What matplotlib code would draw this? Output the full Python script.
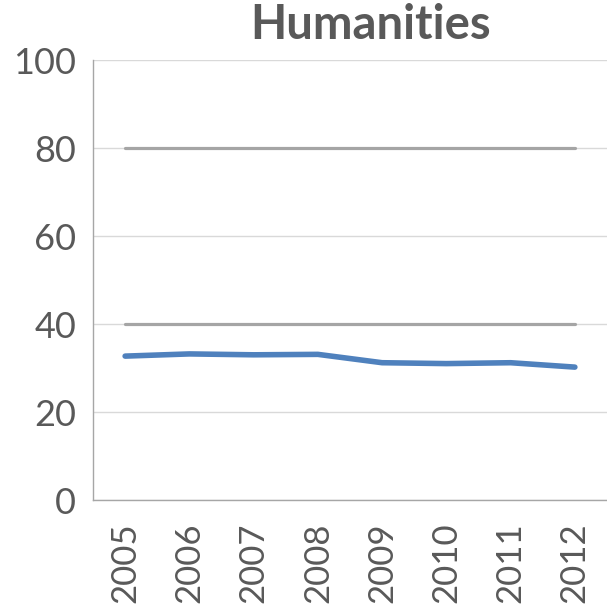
import numpy as np
from matplotlib import pyplot as plt

years = ['2005', '2006', '2007', '2008', '2009', '2010', '2011', '2012']
humanities = [32.7, 33.2, 33.0, 33.1, 31.2, 31.0, 31.2, 30.2]
upper_ref = [80, 80, 80, 80, 80, 80, 80, 80]
lower_ref = [40, 40, 40, 40, 40, 40, 40, 40]

text_col = '#595959'
plt.rcParams['font.family'] = ['Lato', 'DejaVu Sans']

fig = plt.figure(figsize=(6.07, 6.05), dpi=100)
ax = fig.add_axes([93/607, 1-500/605, 1-93/607, 440/605])

x = np.arange(len(years))
ax.plot(x, upper_ref, color='#a5a5a5', lw=2.3, solid_capstyle='round', zorder=3)
ax.plot(x, lower_ref, color='#a5a5a5', lw=2.3, solid_capstyle='round', zorder=3)
ax.plot(x, humanities, color='#4f81bd', lw=4, solid_capstyle='round', zorder=4)

ax.set_xlim(-0.5, len(years) - 0.5)
ax.set_ylim(0, 100)
ax.set_yticks([0, 20, 40, 60, 80, 100])
ax.set_xticks(x)
ax.set_xticklabels(years, rotation=90)
ax.grid(axis='y', color='#d9d9d9', lw=1)
ax.set_axisbelow(True)

for s in ['top', 'right']:
    ax.spines[s].set_visible(False)
for s in ['left', 'bottom']:
    ax.spines[s].set_color('#a6a6a6')
    ax.spines[s].set_linewidth(1)

ax.tick_params(axis='both', length=0, labelsize=26, colors=text_col)
ax.tick_params(axis='x', labelsize=25)
ax.tick_params(axis='y', pad=12)
ax.tick_params(axis='x', pad=16)

fig.text(0.61, 0.958, 'Humanities', ha='center', va='center', fontsize=34,
         fontweight='bold', color=text_col)

fig.savefig('out.png', dpi=100)
